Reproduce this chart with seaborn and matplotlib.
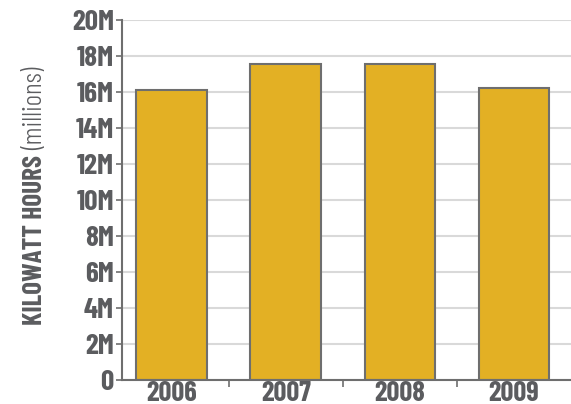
import matplotlib
matplotlib.use("Agg")
import matplotlib.pyplot as plt
from matplotlib.ticker import FuncFormatter, MultipleLocator
import seaborn as sns
import pandas as pd

# Annual electricity use, kilowatt hours
years = ["2006", "2007", "2008", "2009"]
kwh = [16.1e6, 17.55e6, 17.55e6, 16.2e6]

BAR = "#E3B024"
EDGE = "#6E6E6E"
TEXT = "#5B5C5F"
GRID = "#D9D9D9"

sns.set_theme(style="white")
plt.rcParams["font.family"] = ["Barlow Condensed", "DejaVu Sans"]

df = pd.DataFrame({"year": years, "kwh": kwh})

fig = plt.figure(figsize=(5.71, 4.04), dpi=100)
ax = fig.add_axes([0.2128, 0.0606, 0.7872, 0.8911])

sns.barplot(data=df, x="year", y="kwh", color=BAR, saturation=1,
            edgecolor=EDGE, linewidth=1.5, width=0.62, ax=ax)

ax.set_xlim(-0.44, 3.5)
ax.set_ylim(0, 20e6)
ax.yaxis.set_major_locator(MultipleLocator(2e6))
ax.yaxis.set_major_formatter(
    FuncFormatter(lambda v, _: "0" if v == 0 else f"{int(round(v / 1e6))}M"))

ax.set_axisbelow(True)
ax.yaxis.grid(True, color=GRID, linewidth=1.5)
ax.xaxis.grid(False)

for side in ("top", "right"):
    ax.spines[side].set_visible(False)
for side in ("left", "bottom"):
    ax.spines[side].set_color(EDGE)
    ax.spines[side].set_linewidth(1.5)

ax.tick_params(axis="y", which="major", left=True, length=4.5, width=1.2,
               color=EDGE, pad=1, labelsize=21, labelcolor=TEXT)
ax.tick_params(axis="x", which="major", bottom=True, length=0, pad=1,
               labelsize=20.5, labelcolor=TEXT)
ax.set_xticks([0.5, 1.5, 2.5], minor=True)
ax.tick_params(axis="x", which="minor", bottom=True, length=5, width=1.2,
               color=EDGE)
for lbl in ax.get_xticklabels() + ax.get_yticklabels():
    lbl.set_fontweight(700)

ax.set_xlabel("")
ax.set_ylabel("")

# Two-weight vertical axis title
fig.text(35 / 571, 1 - 325 / 404, "KILOWATT HOURS", rotation=90,
         ha="center", va="bottom", fontsize=19.5, fontweight=700, color=TEXT)
fig.text(35 / 571, 1 - 67 / 404, "(millions)", rotation=90,
         ha="center", va="top", fontsize=20, fontweight=300, color=TEXT)

fig.savefig("out.png", dpi=100)
